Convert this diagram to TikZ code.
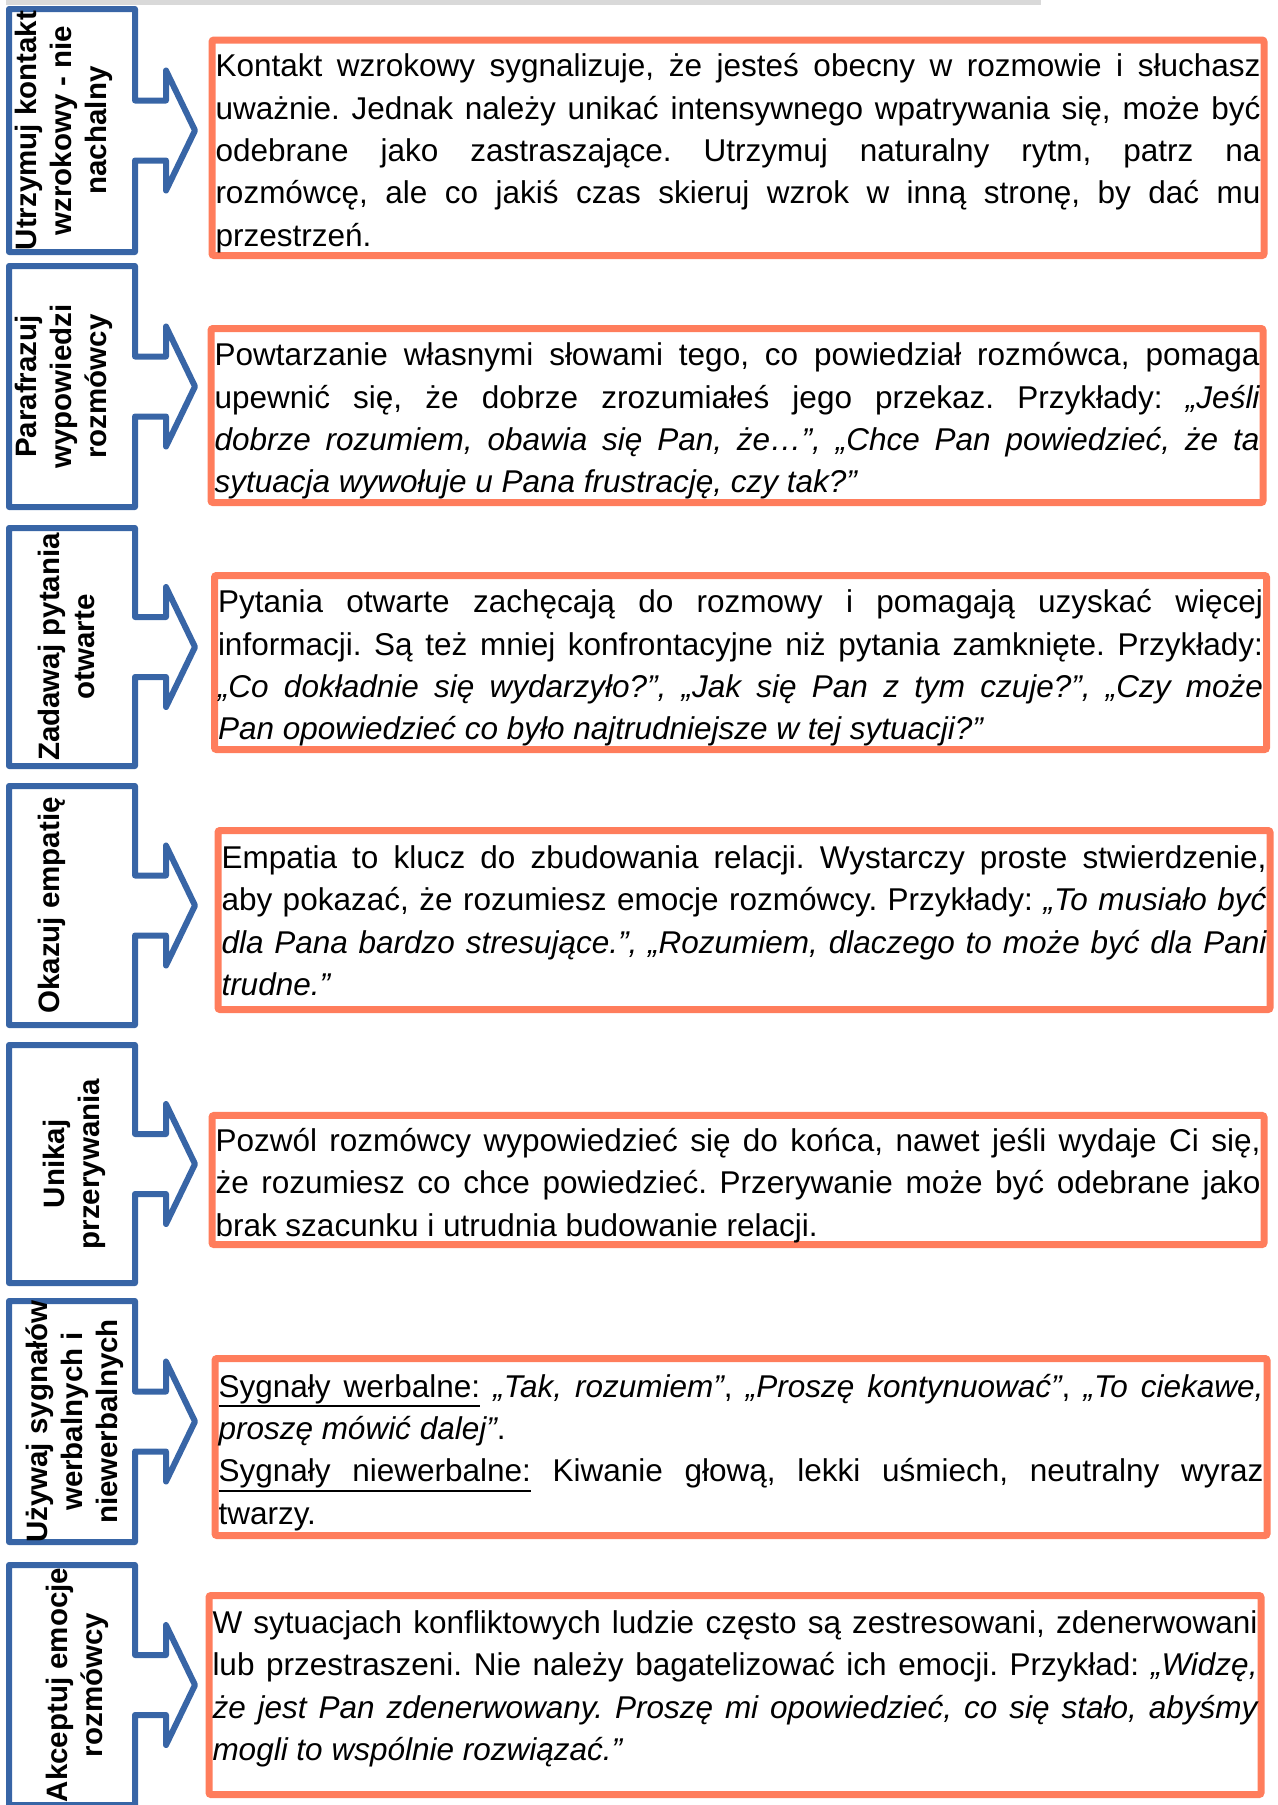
\documentclass[tikz,border=0pt]{standalone}
\usepackage{fontspec}
\setmainfont{Liberation Sans}
\usepackage{tikz}
\usetikzlibrary{positioning}
\definecolor{callblue}{RGB}{56, 101, 166}
\definecolor{coral}{RGB}{255, 125, 92}
\definecolor{topbar}{RGB}{217, 217, 217}
\frenchspacing
\tolerance=10000
\hbadness=10000
\hyphenpenalty=10000
\exhyphenpenalty=10000
% underlined word and underlined stretchable space
\newcommand\ulbox[1]{\leavevmode\setbox0=\hbox{#1}\rlap{\vrule height -4pt depth 5pt width \wd0}\box0\relax}
\newcommand\ulspace{\leaders\vrule height -4pt depth 5pt\hskip\fontdimen2\font plus\fontdimen3\font minus\fontdimen4\font}
% fixed first-line height and last-line depth
\newcommand\topstrut{\rule{0pt}{18pt}}
\newcommand\botstrut[1][4.25pt]{\rule[-#1]{0pt}{0pt}}

\begin{document}
\begin{tikzpicture}[
    x=0.5pt, y=-0.5pt,
    callout/.style={draw=callblue, line width=3pt, line join=round},
    hintlabel/.style={rotate=90, align=center, inner sep=0pt, font=\fontsize{14.75}{17.5}\selectfont\bfseries},
    hintbox/.style={draw=coral, line width=3.5pt, rounded corners=1pt, text width=522.5pt,
      inner xsep=1.75pt, inner ysep=0pt, align=justify, font=\fontsize{15.75}{21.15}\selectfont}
  ]

  \useasboundingbox (0,0) rectangle (1278,1805);
  \clip (0,0) rectangle (1278,1805);

  % Top bar
  \fill[topbar] (6,0) rectangle (1041,5);

  % Arrow callouts
  \foreach \t/\b in {9/252, 266/507, 528/766, 786/1025, 1045/1283, 1301/1542, 1565/1805} {
    \pgfmathsetmacro{\cy}{(\t+\b)/2}
    \draw[callout] (9,\t) -- (135,\t) -- (135,\cy-30) -- (166,\cy-30) -- (166,\cy-60)
      -- (195,\cy) -- (166,\cy+60) -- (166,\cy+30) -- (135,\cy+30) -- (135,\b) -- (9,\b) -- cycle;
  }

  % Labels
  \node[hintlabel] (l1) at (64,130.5) {Utrzymuj kontakt\\wzrokowy - nie\\nachalny};
  \node[hintlabel] (l2) at (64,386.5) {Parafrazuj\\wypowiedzi\\rozmówcy};
  \node[hintlabel] (l3) at (66,647) {Zadawaj pytania\\otwarte};
  \node[hintlabel] (l4) at (52,905.5) {Okazuj empatię};
  \node[hintlabel] (l5) at (74.5,1164) {Unikaj\\przerywania};
  \node[hintlabel] (l6) at (75,1421.5) {Używaj sygnałów\\werbalnych i\\niewerbalnych};
  \node[hintlabel] (l7) at (77.5,1685) {Akceptuj emocje\\rozmówcy};

  % Descriptions
  \node[hintbox, minimum height=107.75pt] (d1) at (738,147.75) {\topstrut Kontakt wzrokowy sygnalizuje, że jesteś obecny w rozmowie i słuchasz\linebreak
    uważnie. Jednak należy unikać intensywnego wpatrywania się, może być\linebreak
    odebrane jako zastraszające. Utrzymuj naturalny rytm, patrz na\linebreak
    rozmówcę, ale co jakiś czas skieruj wzrok w inną stronę, by dać mu\linebreak
    przestrzeń.\botstrut};
  \node[hintbox, minimum height=87pt] (d2) at (737,415.5) {\topstrut Powtarzanie własnymi słowami tego, co powiedział rozmówca, pomaga\linebreak
    upewnić się, że dobrze zrozumiałeś jego przekaz. Przykłady: \textit{„Jeśli\linebreak
    dobrze rozumiem, obawia się Pan, że…”, „Chce Pan powiedzieć, że ta\linebreak
    sytuacja wywołuje u Pana frustrację, czy tak?”}\botstrut};
  \node[hintbox, minimum height=87pt] (d3) at (740.5,662.5) {\topstrut Pytania otwarte zachęcają do rozmowy i pomagają uzyskać więcej\linebreak
    informacji. Są też mniej konfrontacyjne niż pytania zamknięte. Przykłady:\linebreak
    \textit{„Co dokładnie się wydarzyło?”, „Jak się Pan z tym czuje?”, „Czy może\linebreak
    Pan opowiedzieć co było najtrudniejsze w tej sytuacji?”}\botstrut};
  \node[hintbox, minimum height=89.5pt] (d4) at (744,920) {\topstrut Empatia to klucz do zbudowania relacji. Wystarczy proste stwierdzenie,\linebreak
    aby pokazać, że rozumiesz emocje rozmówcy. Przykłady: \textit{„To musiało być\linebreak
    dla Pana bardzo stresujące.”, „Rozumiem, dlaczego to może być dla Pani\linebreak
    trudne.”}\botstrut[6pt]};
  \node[hintbox, minimum height=63.5pt] (d5) at (738,1180) {\topstrut Pozwól rozmówcy wypowiedzieć się do końca, nawet jeśli wydaje Ci się,\linebreak
    że rozumiesz co chce powiedzieć. Przerywanie może być odebrane jako\linebreak
    brak szacunku i utrudnia budowanie relacji.\botstrut};
  \node[hintbox, minimum height=88.5pt] (d6) at (741,1447) {\topstrut\ulbox{Sygnały}\ulspace\ulbox{werbalne:} \textit{„Tak, rozumiem”}, \textit{„Proszę kontynuować”}, \textit{„To ciekawe,\linebreak
    proszę mówić dalej”}.\par
    \ulbox{Sygnały}\ulspace\ulbox{niewerbalne:} Kiwanie głową, lekki uśmiech, neutralny wyraz\linebreak
    twarzy.\botstrut};
  \node[hintbox, minimum height=99.5pt] (d7) at (735,1695) {\topstrut W sytuacjach konfliktowych ludzie często są zestresowani, zdenerwowani\linebreak
    lub przestraszeni. Nie należy bagatelizować ich emocji. Przykład: \textit{„Widzę,\linebreak
    że jest Pan zdenerwowany. Proszę mi opowiedzieć, co się stało, abyśmy\linebreak
    mogli to wspólnie rozwiązać.”}\botstrut[16pt]};

\end{tikzpicture}
\end{document}
